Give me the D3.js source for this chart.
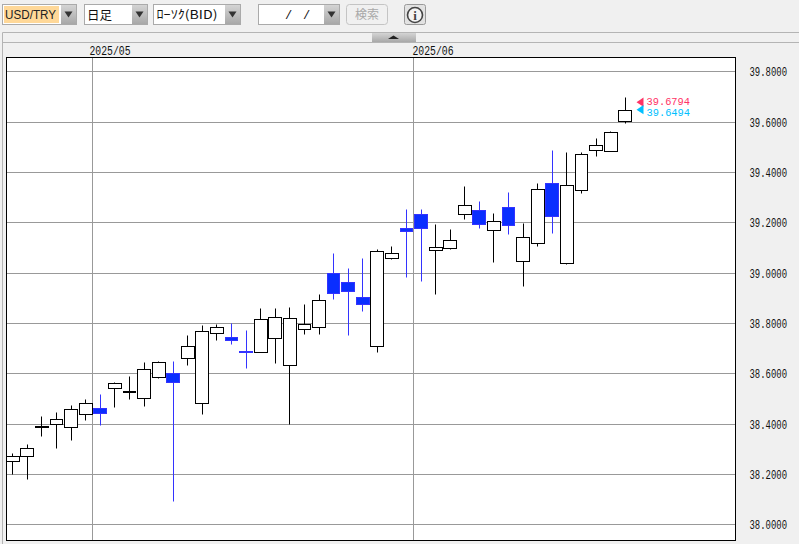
<!DOCTYPE html>
<html><head><meta charset="utf-8">
<script src="https://cdnjs.cloudflare.com/ajax/libs/d3/7.8.5/d3.min.js"></script>
<style>html,body{margin:0;padding:0;background:#f0f0f0;overflow:hidden}svg{display:block}</style>
</head><body><div id="chart"></div>
<script>
const dates = ["04/23","04/24","04/25","04/28","04/29","04/30","05/01","05/02","05/05","05/06","05/07","05/08","05/09","05/12","05/13","05/14","05/15","05/16","05/19","05/20","05/21","05/22","05/23","05/26","05/27","05/28","05/29","05/30","06/02","06/03","06/04","06/05","06/06","06/09","06/10","06/11","06/12","06/13","06/16","06/17","06/18","06/19","06/20"];
const opens = [38.2520,38.2718,38.3871,38.3990,38.3871,38.4387,38.4625,38.5419,38.5272,38.5022,38.5856,38.6014,38.6610,38.4823,38.7603,38.7444,38.6892,38.6848,38.7404,38.6332,38.7762,38.7841,38.9986,38.9628,38.9033,38.7087,39.0582,39.1773,39.2329,39.0899,39.0979,39.2329,39.2488,39.1693,39.2607,39.0462,39.1177,39.3560,39.0383,39.3282,39.4871,39.4831,39.6022];
const highs = [38.2837,38.3207,38.4319,38.4478,38.4756,38.4994,38.5193,38.5669,38.5907,38.6463,38.6491,38.6503,38.7535,38.7933,38.7972,38.8012,38.7734,38.8608,38.8608,38.8647,38.8767,38.9164,39.0792,39.0196,39.0593,39.0939,39.1070,39.2539,39.2539,39.1944,39.1745,39.3453,39.2857,39.2380,39.3214,39.1983,39.3572,39.4882,39.4803,39.4791,39.5359,39.5637,39.6987];
const lows = [38.1988,38.1789,38.3497,38.3020,38.3338,38.4132,38.3934,38.4648,38.4966,38.4688,38.5800,38.0915,38.6316,38.4370,38.7309,38.7150,38.6197,38.6848,38.6395,38.3981,38.7547,38.7547,38.8937,38.7508,38.8461,38.6832,39.0526,38.9811,38.9652,38.9136,39.0923,39.2114,39.1757,39.0407,39.1519,38.9454,39.1042,39.1558,39.0327,39.3147,39.4616,39.4831,39.5927];
const closes = [38.2718,38.3036,38.3902,38.4188,38.4585,38.4823,38.4410,38.5617,38.5300,38.6173,38.6451,38.5641,38.7087,38.7682,38.7841,38.7309,38.6852,38.8159,38.8238,38.8199,38.7960,38.8914,38.9176,38.9255,38.8739,39.0859,39.0780,39.1638,39.1773,39.1018,39.1296,39.2686,39.1932,39.2051,39.1876,39.1415,39.3322,39.2234,39.3481,39.4712,39.5069,39.5585,39.6459];
const yTicks = [39.8,39.6,39.4,39.2,39.0,38.8,38.6,38.4,38.2,38.0];
const monthStarts = ["05/01","06/02"];
const monthLabels = ["2025/05","2025/06"];
const askPrice = 39.6794;
const bidPrice = 39.6494;

const W=799,H=544;
const svg=d3.select("#chart").append("svg").attr("width",W).attr("height",H).style("background","#f0f0f0");
const FONT="'Liberation Mono',monospace", CJK="'Noto Sans CJK JP',sans-serif";
const px=v=>Math.floor(v)+0.5;

const x=d3.scalePoint().domain(dates).range([12.8,625.2]);
const y=d3.scaleLinear().domain([38,39.8]).range([524.8,71.8]);

// toolbar
const defs=svg.append("defs");
const g1=defs.append("linearGradient").attr("id","btn").attr("x1",0).attr("y1",0).attr("x2",0).attr("y2",1);
g1.append("stop").attr("offset","0").attr("stop-color","#d4d4d4");
g1.append("stop").attr("offset","1").attr("stop-color","#a8a8a8");
const tb=svg.append("g");
function combo(x0,w,btnW,fill){
  tb.append("rect").attr("x",x0+.5).attr("y",4.5).attr("width",w+btnW).attr("height",20).attr("fill","#fff").attr("stroke","#aaa");
  if(fill) tb.append("rect").attr("x",x0+2).attr("y",6).attr("width",w-3).attr("height",17).attr("fill",fill);
  tb.append("rect").attr("x",x0+w+1).attr("y",5).attr("width",btnW-1).attr("height",19).attr("fill","url(#btn)");
  const c=x0+w+btnW/2+.5;
  tb.append("path").attr("d",`M${c-4},11.5L${c+4},11.5L${c},17.5Z`).attr("fill","#333");
}
combo(2,58,16,"#ffd898");
combo(84,47,16);
combo(153,71,16);
combo(258,65,16);
tb.append("text").attr("x",5).attr("y",19).attr("font-family","'Liberation Sans',sans-serif").attr("font-size",12).attr("textLength",51).attr("lengthAdjust","spacingAndGlyphs").attr("fill","#222").text("USD/TRY");
tb.append("text").attr("x",87).attr("y",19.5).attr("font-family",CJK).attr("font-size",12.5).attr("fill","#111").text("日足");
tb.append("text").attr("x",156.5).attr("y",19).attr("font-family",CJK).attr("font-size",12).attr("textLength",61).attr("lengthAdjust","spacingAndGlyphs").attr("fill","#111").text("ﾛｰｿｸ(BID)");
tb.append("text").attr("x",285).attr("y",19).attr("font-family",FONT).attr("font-size",12).attr("fill","#111").text("/");
tb.append("text").attr("x",303).attr("y",19).attr("font-family",FONT).attr("font-size",12).attr("fill","#111").text("/");
tb.append("rect").attr("x",346.5).attr("y",4.5).attr("width",41).attr("height",20).attr("rx",3).attr("fill","#f0f0f0").attr("stroke","#c4c4c4");
tb.append("text").attr("x",367).attr("y",19).attr("text-anchor","middle").attr("font-family",CJK).attr("font-size",12).attr("fill","#a8a8a8").text("検索");
tb.append("rect").attr("x",404.5).attr("y",4.5).attr("width",21).attr("height",20).attr("rx",2).attr("fill","#e2e2e2").attr("stroke","#999");
tb.append("circle").attr("cx",415).attr("cy",15).attr("r",7.5).attr("fill","#f4f4f4").attr("stroke","#444").attr("stroke-width",1.6);
tb.append("text").attr("x",415).attr("y",19.5).attr("text-anchor","middle").attr("font-family","'Liberation Serif',serif").attr("font-weight","bold").attr("font-size",13).attr("fill","#444").text("i");

// panel chrome
svg.append("path").attr("d","M2.5,544V32.5H799M2.5,42.5H799").attr("fill","none").attr("stroke","#b4b4b4");
svg.append("rect").attr("x",372).attr("y",33).attr("width",44).attr("height",9).attr("fill","url(#btn)");
svg.append("path").attr("d","M388,39L393.5,35.5L399,39Z").attr("fill","#222");

// plot
svg.append("rect").attr("x",6.5).attr("y",57.5).attr("width",729).attr("height",483).attr("fill","#fff");
defs.append("clipPath").attr("id","plot").append("rect").attr("x",7).attr("y",58).attr("width",728).attr("height",482);
const plot=svg.append("g").attr("clip-path","url(#plot)");

plot.selectAll("line.h").data(yTicks).join("line").attr("class","h")
  .attr("x1",7).attr("x2",735).attr("y1",d=>px(y(d))).attr("y2",d=>px(y(d))).attr("stroke","#999");
const monthX=d=>{const i=dates.indexOf(d);return px((x(dates[i-1])+x(d))/2-0.4)};
plot.selectAll("line.v").data(monthStarts).join("line").attr("class","v")
  .attr("x1",monthX).attr("x2",monthX).attr("y1",58).attr("y2",540).attr("stroke","#999");

const candles=dates.map((d,i)=>({d,o:opens[i],h:highs[i],l:lows[i],c:closes[i]}));
const isDown=c=>c.c<c.o;
const WICK_BLUE="#3333ff",BODY_BLUE="#0a2eff";
const cg=plot.selectAll("g.c").data(candles).join("g").attr("class","c");
cg.append("line").attr("x1",c=>px(x(c.d))).attr("x2",c=>px(x(c.d)))
  .attr("y1",c=>px(y(c.h))).attr("y2",c=>px(y(c.l)))
  .attr("stroke",c=>isDown(c)?WICK_BLUE:"#000");
cg.append("rect")
  .attr("x",c=>px(x(c.d)-6.4)).attr("width",c=>px(x(c.d)+6.4)-px(x(c.d)-6.4))
  .attr("y",c=>px(y(Math.max(c.o,c.c))))
  .attr("height",c=>Math.max(1,px(y(Math.min(c.o,c.c)))-px(y(Math.max(c.o,c.c)))))
  .attr("fill",c=>isDown(c)?BODY_BLUE:"#fff")
  .attr("stroke",c=>isDown(c)?WICK_BLUE:"#000");

// frame
svg.append("rect").attr("x",6.5).attr("y",57.5).attr("width",729).attr("height",483).attr("fill","none").attr("stroke","#000");

// axis labels
function label(sel,xv,yv,t,len,color,size){
  return sel.append("text").attr("x",xv).attr("y",yv).attr("font-family",FONT).attr("font-size",size||12)
    .attr("textLength",len).attr("lengthAdjust","spacingAndGlyphs").attr("fill",color||"#111").text(t);
}
yTicks.forEach(t=>label(svg,749.5,px(y(t))+4,d3.format(".4f")(t),37.5));
monthStarts.forEach((d,i)=>label(svg,monthX(d)+(i===0?-3:-1),55,monthLabels[i],41));

// price markers
[[askPrice,"#ff3366",-1.5],[bidPrice,"#00bfff",1.8]].forEach(([v,col,dy])=>{
  const yy=y(v);
  svg.append("path").attr("d",`M636.5,${yy}L643.5,${yy-4.6}L643.5,${yy+4.6}Z`).attr("fill",col);
  label(svg,646.5,yy+dy+4,d3.format(".4f")(v),43.5,col,10);
});
</script></body></html>
